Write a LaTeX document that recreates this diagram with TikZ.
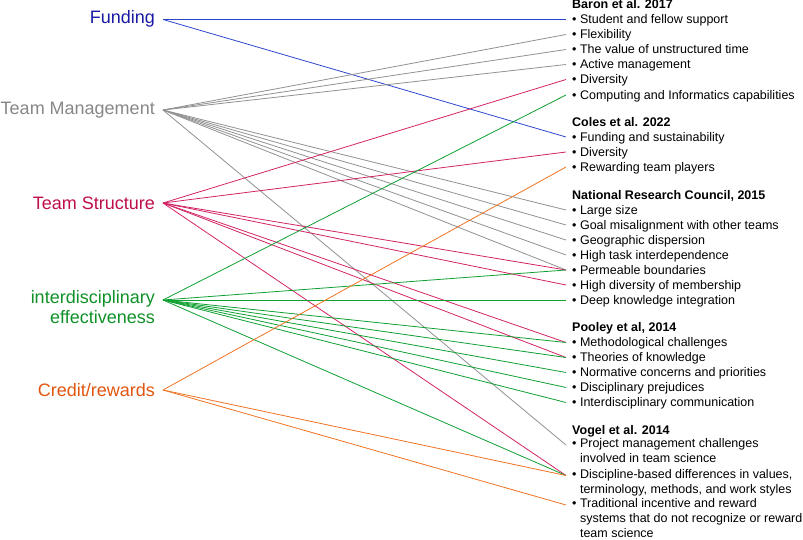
\documentclass[tikz,border=0pt]{standalone}
\usepackage{fontspec}
\setmainfont{Liberation Sans}
\usetikzlibrary{positioning}

\definecolor{fundtext}{RGB}{25,25,165}
\definecolor{fundline}{RGB}{45,70,205}
\definecolor{mgmttext}{RGB}{135,135,135}
\definecolor{mgmtline}{RGB}{145,145,145}
\definecolor{structtext}{RGB}{190,15,75}
\definecolor{structline}{RGB}{210,35,100}
\definecolor{intertext}{RGB}{15,145,40}
\definecolor{interline}{RGB}{15,160,50}
\definecolor{credittext}{RGB}{225,85,15}
\definecolor{creditline}{RGB}{240,115,35}

\newcommand{\bul}{\textbullet\ }
\newcommand{\cont}{\hphantom{\textbullet\ }}

\begin{document}
\begin{tikzpicture}[
    x=1pt,
    y=-1pt,
    cat/.style={
        anchor=east,
        align=right,
        inner sep=0pt,
        font=\fontsize{18}{20}\selectfont
    },
    head/.style={
        anchor=base west,
        inner sep=0pt,
        font=\fontsize{12.5}{15}\selectfont\bfseries
    },
    item/.style={
        anchor=north west,
        inner sep=0pt,
        inner xsep=6pt,
        align=left,
        execute at begin node={\strut},
        font=\fontsize{12.5}{15}\selectfont
    },
    link/.style={
        line width=0.8pt
    }
]
\useasboundingbox (0,0) rectangle (803,540);

% Categories
\node[cat, text=fundtext] (funding) at (155,19) {Funding};
\node[cat, text=mgmttext] (teammgmt) at (155,110) {Team Management};
\node[cat, text=structtext] (teamstruct) at (155,203) {Team Structure};
\node[cat, text=intertext] (interdisc) at (155,307) {interdisciplinary\\effectiveness};
\node[cat, text=credittext] (credit) at (155,390) {Credit/rewards};

\coordinate (funding-hub) at (163,19.5);
\coordinate (teammgmt-hub) at (163,110);
\coordinate (teamstruct-hub) at (163,203);
\coordinate (interdisc-hub) at (163,300);
\coordinate (credit-hub) at (163,390);

% Baron et al.
\node[head] (baron) at (572,9) {Baron et al. 2017};
\node[item] (b1) at (566,13) {\bul Student and fellow support};
\node[item] (b2) at (566,28) {\bul Flexibility};
\node[item] (b3) at (566,43) {\bul The value of unstructured time};
\node[item] (b4) at (566,58) {\bul Active management};
\node[item] (b5) at (566,73) {\bul Diversity};
\node[item] (b6) at (566,88.5) {\bul Computing and Informatics capabilities};

% Coles et al.
\node[head] (coles) at (572,126.5) {Coles et al. 2022};
\node[item] (c1) at (566,130.5) {\bul Funding and sustainability};
\node[item] (c2) at (566,145.5) {\bul Diversity};
\node[item] (c3) at (566,160.5) {\bul Rewarding team players};

% National Research Council
\node[head] (nrc) at (572,199.5) {National Research Council, 2015};
\node[item] (n1) at (566,203.5) {\bul Large size};
\node[item] (n2) at (566,218.5) {\bul Goal misalignment with other teams};
\node[item] (n3) at (566,233.5) {\bul Geographic dispersion};
\node[item] (n4) at (566,248.5) {\bul High task interdependence};
\node[item] (n5) at (566,263.5) {\bul Permeable boundaries};
\node[item] (n6) at (566,278.5) {\bul High diversity of membership};
\node[item] (n7) at (566,293.5) {\bul Deep knowledge integration};

% Pooley et al.
\node[head] (pooley) at (572,331) {Pooley et al, 2014};
\node[item] (p1) at (566,336) {\bul Methodological challenges};
\node[item] (p2) at (566,351) {\bul Theories of knowledge};
\node[item] (p3) at (566,366) {\bul Normative concerns and priorities};
\node[item] (p4) at (566,381) {\bul Disciplinary prejudices};
\node[item] (p5) at (566,396) {\bul Interdisciplinary communication};

% Vogel et al.
\node[head] (vogel) at (572,434.5) {Vogel et al. 2014};
\node[item] (v1) at (566,438.5) {\bul Project management challenges\\\cont involved in team science};
\node[item] (v2) at (566,469) {\bul Discipline-based differences in values,\\\cont terminology, methods, and work styles};
\node[item] (v3) at (566,498.5) {\bul Traditional incentive and reward\\\cont systems that do not recognize or reward\\\cont team science};

% Funding
\draw[link, fundline] (funding-hub) -- ([yshift=-6.5pt]b1.north west);
\draw[link, fundline] (funding-hub) -- ([yshift=-6.5pt]c1.north west);

% Team management
\draw[link, mgmtline] (teammgmt-hub) -- ([yshift=-6.5pt]b2.north west);
\draw[link, mgmtline] (teammgmt-hub) -- ([yshift=-6.5pt]b3.north west);
\draw[link, mgmtline] (teammgmt-hub) -- ([yshift=-6.5pt]b4.north west);
\draw[link, mgmtline] (teammgmt-hub) -- ([yshift=-6.5pt]n1.north west);
\draw[link, mgmtline] (teammgmt-hub) -- ([yshift=-6.5pt]n2.north west);
\draw[link, mgmtline] (teammgmt-hub) -- ([yshift=-6.5pt]n3.north west);
\draw[link, mgmtline] (teammgmt-hub) -- ([yshift=-6.5pt]n4.north west);
\draw[link, mgmtline] (teammgmt-hub) -- ([yshift=-6.5pt]n5.north west);
\draw[link, mgmtline] (teammgmt-hub) -- ([yshift=-6.5pt]v1.north west);

% Team structure
\draw[link, structline] (teamstruct-hub) -- ([yshift=-6.5pt]b5.north west);
\draw[link, structline] (teamstruct-hub) -- ([yshift=-6.5pt]c2.north west);
\draw[link, structline] (teamstruct-hub) -- ([yshift=-6.5pt]n5.north west);
\draw[link, structline] (teamstruct-hub) -- ([yshift=-6.5pt]n6.north west);
\draw[link, structline] (teamstruct-hub) -- ([yshift=-6.5pt]p1.north west);
\draw[link, structline] (teamstruct-hub) -- ([yshift=-6.5pt]p2.north west);
\draw[link, structline] (teamstruct-hub) -- ([yshift=-6.5pt]v2.north west);

% Interdisciplinary effectiveness
\draw[link, interline] (interdisc-hub) -- ([yshift=-6.5pt]b6.north west);
\draw[link, interline] (interdisc-hub) -- ([yshift=-6.5pt]n5.north west);
\draw[link, interline] (interdisc-hub) -- ([yshift=-6.5pt]n7.north west);
\draw[link, interline] (interdisc-hub) -- ([yshift=-6.5pt]p1.north west);
\draw[link, interline] (interdisc-hub) -- ([yshift=-6.5pt]p2.north west);
\draw[link, interline] (interdisc-hub) -- ([yshift=-6.5pt]p3.north west);
\draw[link, interline] (interdisc-hub) -- ([yshift=-6.5pt]p4.north west);
\draw[link, interline] (interdisc-hub) -- ([yshift=-6.5pt]p5.north west);
\draw[link, interline] (interdisc-hub) -- ([yshift=-6.5pt]v2.north west);

% Credit/rewards
\draw[link, creditline] (credit-hub) -- ([yshift=-6.5pt]c3.north west);
\draw[link, creditline] (credit-hub) -- ([yshift=-6.5pt]v2.north west);
\draw[link, creditline] (credit-hub) -- ([yshift=-6.5pt]v3.north west);

\end{tikzpicture}
\end{document}
